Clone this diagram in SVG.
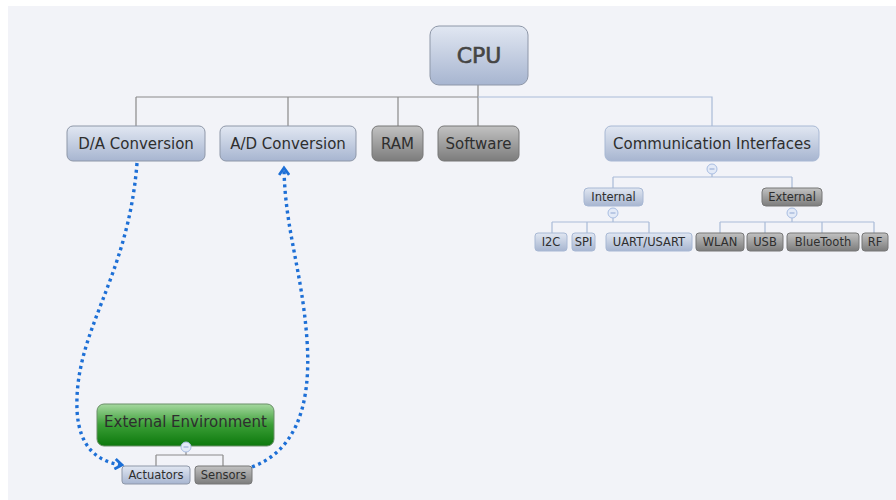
<svg xmlns="http://www.w3.org/2000/svg" width="896" height="500" viewBox="0 0 896 500">
<defs>
<linearGradient id="gBlue" x1="0" y1="0" x2="0" y2="1"><stop offset="0" stop-color="#e1e7f2"/><stop offset="1" stop-color="#a7b5d0"/></linearGradient>
<linearGradient id="gGray" x1="0" y1="0" x2="0" y2="1"><stop offset="0" stop-color="#c2c2c2"/><stop offset="1" stop-color="#7c7c7c"/></linearGradient>
<linearGradient id="gGreen" x1="0" y1="0" x2="0" y2="1"><stop offset="0" stop-color="#a6d8a0"/><stop offset="0.5" stop-color="#3a9e36"/><stop offset="1" stop-color="#0c780c"/></linearGradient>
<marker id="arr" markerWidth="12" markerHeight="12" refX="9" refY="6" orient="auto" markerUnits="userSpaceOnUse"><path d="M2,1 L9,6 L2,11" fill="none" stroke="#1d6fd6" stroke-width="2.8" stroke-linejoin="miter"/></marker>
</defs>
<style>
text{font-family:"DejaVu Sans","Liberation Sans",sans-serif;fill:#2e2e2e;text-anchor:middle}
.t14{font-size:15px}
.t11{font-size:11.5px}
.blue{fill:url(#gBlue);stroke:#8e97a8;stroke-width:1}
.blue2{fill:url(#gBlue);stroke:#a8b8d4;stroke-width:1}
.gray{fill:url(#gGray);stroke:#777;stroke-width:1}
.green{fill:url(#gGreen);stroke:#6a8f68;stroke-width:1}
.lg{fill:none;stroke:#8a8a8a;stroke-width:1.2}
.lb{fill:none;stroke:#a9bbd8;stroke-width:1.2}
.dot{fill:none;stroke:#1d6fd6;stroke-width:3.4;stroke-dasharray:3 3.6}
.col{fill:#e3eaf7;stroke:#a8bde2;stroke-width:1}
.minus{stroke:#8fa6d2;stroke-width:1}
</style>
<rect x="0" y="0" width="896" height="500" fill="#ffffff"/>
<rect x="8" y="6" width="888" height="494" fill="#f2f3f8"/>

<g id="connectors">
<path class="lg" d="M478,85 V97 M136,97 H478 M136,97 V126 M288,97 V126 M398,97 V126 M478,97 V126"/>
<path class="lb" d="M478,97 H712 V126"/>
<path class="lb" d="M712,174 V177 M613,177 H792 M613,177 V188 M792,177 V188"/>
<path class="lb" d="M613,218 V222 M552,222 H649 M552,222 V233 M587,222 V233 M649,222 V233"/>
<path class="lb" d="M792,218 V222 M720,222 H874 M720,222 V233 M765,222 V233 M822,222 V233 M874,222 V233"/>
<path class="lg" d="M186,452 V455 M156,455 H223 M156,455 V466 M223,455 V466"/>
<path class="dot" d="M137,163 C128,280 74,330 77,410 C79,450 100,462 122,465" marker-end="url(#arr)"/>
<path class="dot" d="M252,467 C292,452 312,412 307,340 C302,270 285,230 284,168" marker-end="url(#arr)"/>
</g>

<g id="cpu"><rect class="blue" x="430" y="26" width="98" height="59" rx="9"/><text x="479" y="63" style="font-size:22px;fill:#454545;stroke:#454545;stroke-width:0.6">CPU</text></g>
<g id="da"><rect class="blue" x="67" y="126" width="138" height="35" rx="6"/><text class="t14" x="136" y="148.5">D/A Conversion</text></g>
<g id="ad"><rect class="blue" x="220" y="126" width="136" height="35" rx="6"/><text class="t14" x="288" y="148.5">A/D Conversion</text></g>
<g id="ram"><rect class="gray" x="372" y="126" width="51" height="35" rx="6"/><text class="t14" x="397.5" y="148.5">RAM</text></g>
<g id="software"><rect class="gray" x="438" y="126" width="81" height="35" rx="6"/><text class="t14" x="478.5" y="148.5">Software</text></g>
<g id="comm"><rect class="blue2" x="605" y="126" width="214" height="35" rx="6"/><text class="t14" x="712" y="148.5">Communication Interfaces</text>
<circle class="col" cx="712" cy="169" r="5"/><path class="minus" d="M709.5,169 H714.5"/></g>

<g id="internal"><rect class="blue2" x="584" y="188" width="59" height="18" rx="4"/><text class="t11" x="613.5" y="201">Internal</text>
<circle class="col" cx="613" cy="213" r="5"/><path class="minus" d="M610.5,213 H615.5"/></g>
<g id="external"><rect class="gray" x="762" y="188" width="60" height="18" rx="4"/><text class="t11" x="792" y="201">External</text>
<circle class="col" cx="792" cy="213" r="5"/><path class="minus" d="M789.5,213 H794.5"/></g>

<g id="i2c"><rect class="blue2" x="535" y="233" width="32" height="18" rx="3"/><text class="t11" x="551" y="246">I2C</text></g>
<g id="spi"><rect class="blue2" x="572" y="233" width="23" height="18" rx="3"/><text class="t11" x="583.5" y="246">SPI</text></g>
<g id="uart"><rect class="blue2" x="606" y="233" width="86" height="18" rx="3"/><text class="t11" x="649" y="246">UART/USART</text></g>
<g id="wlan"><rect class="gray" x="696" y="233" width="48" height="18" rx="3"/><text class="t11" x="720" y="246">WLAN</text></g>
<g id="usb"><rect class="gray" x="747" y="233" width="36" height="18" rx="3"/><text class="t11" x="765" y="246">USB</text></g>
<g id="bluetooth"><rect class="gray" x="787" y="233" width="72" height="18" rx="3"/><text class="t11" x="823" y="246">BlueTooth</text></g>
<g id="rf"><rect class="gray" x="862" y="233" width="26" height="18" rx="3"/><text class="t11" x="875" y="246">RF</text></g>

<g id="extenv"><rect class="green" x="97" y="404" width="177" height="42" rx="7"/><text class="t14" x="185.5" y="426.5">External Environment</text>
<circle class="col" cx="186" cy="447" r="5"/><path class="minus" d="M183.5,447 H188.5"/></g>
<g id="actuators"><rect class="blue" x="122" y="466" width="68" height="18" rx="3"/><text class="t11" x="156" y="479">Actuators</text></g>
<g id="sensors"><rect class="gray" x="195" y="466" width="57" height="18" rx="3"/><text class="t11" x="223.5" y="479">Sensors</text></g>
</svg>
